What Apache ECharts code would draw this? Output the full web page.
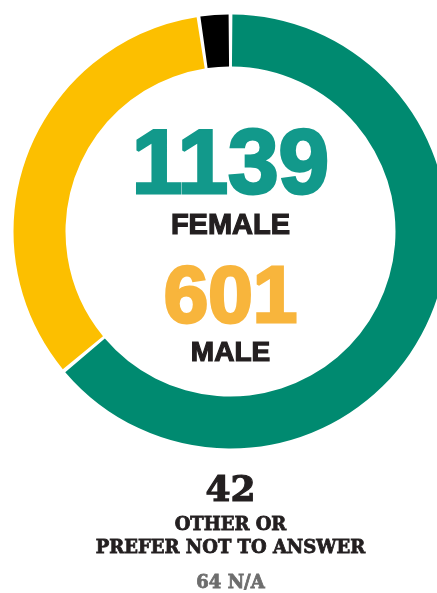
<!DOCTYPE html>
<html>
<head>
<meta charset="utf-8">
<script src="https://cdn.jsdelivr.net/npm/echarts@6/dist/echarts.min.js"></script>
<style>
  html, body { margin: 0; padding: 0; background: #fff; }
  #chart { width: 437px; height: 593px; }
</style>
</head>
<body>
<div id="chart"></div>
<script>
// 数据
const categories = ["FEMALE", "MALE", "OTHER OR PREFER NOT TO ANSWER"];
const counts = [1139, 601, 42];
const naCount = 64;
// 颜色
const ringColors = ["#008a70", "#fcbf00", "#000000"];
const numberColors = ["#12998b", "#f8b53c", "#231f20"];

const myChart = echarts.init(document.getElementById("chart"));

const cx = 230.5;
const numFont = '"Liberation Sans", Arial, sans-serif';
const slabFont = '"DejaVu Serif", serif';

// 文字（描边加粗）
function txt(text, y, size, color, font, stroke) {
  return {
    type: "text",
    x: cx,
    y: y,
    style: {
      text: text,
      fill: color,
      stroke: color,
      lineWidth: stroke,
      font: "bold " + size + "px " + font,
      textAlign: "center",
      textVerticalAlign: "middle",
    },
  };
}

const option = {
  backgroundColor: "#fff",
  series: [
    {
      type: "pie",
      center: [cx, 231.5],
      radius: [165, 217],
      startAngle: 90,
      clockwise: true,
      padAngle: 1,
      silent: true,
      label: { show: false },
      labelLine: { show: false },
      itemStyle: { borderWidth: 0 },
      data: categories.map((name, i) => ({
        name: name,
        value: counts[i],
        itemStyle: { color: ringColors[i] },
      })),
    },
  ],
  graphic: [
    txt(String(counts[0]), 168, 91, numberColors[0], numFont, 3),
    txt(categories[0], 226, 29, numberColors[2], numFont, 1.2),
    txt(String(counts[1]), 300, 80, numberColors[1], numFont, 3),
    txt(categories[1], 353, 28, numberColors[2], numFont, 1.2),
    txt(String(counts[2]), 492, 36, numberColors[2], slabFont, 1.2),
    txt("OTHER OR", 525, 18, numberColors[2], slabFont, 0.8),
    txt("PREFER NOT TO ANSWER", 548, 18, numberColors[2], slabFont, 0.8),
    txt(naCount + " N/A", 583, 18, "#6d6d6d", slabFont, 0.8),
  ],
};

option && myChart.setOption(option);
</script>
</body>
</html>
